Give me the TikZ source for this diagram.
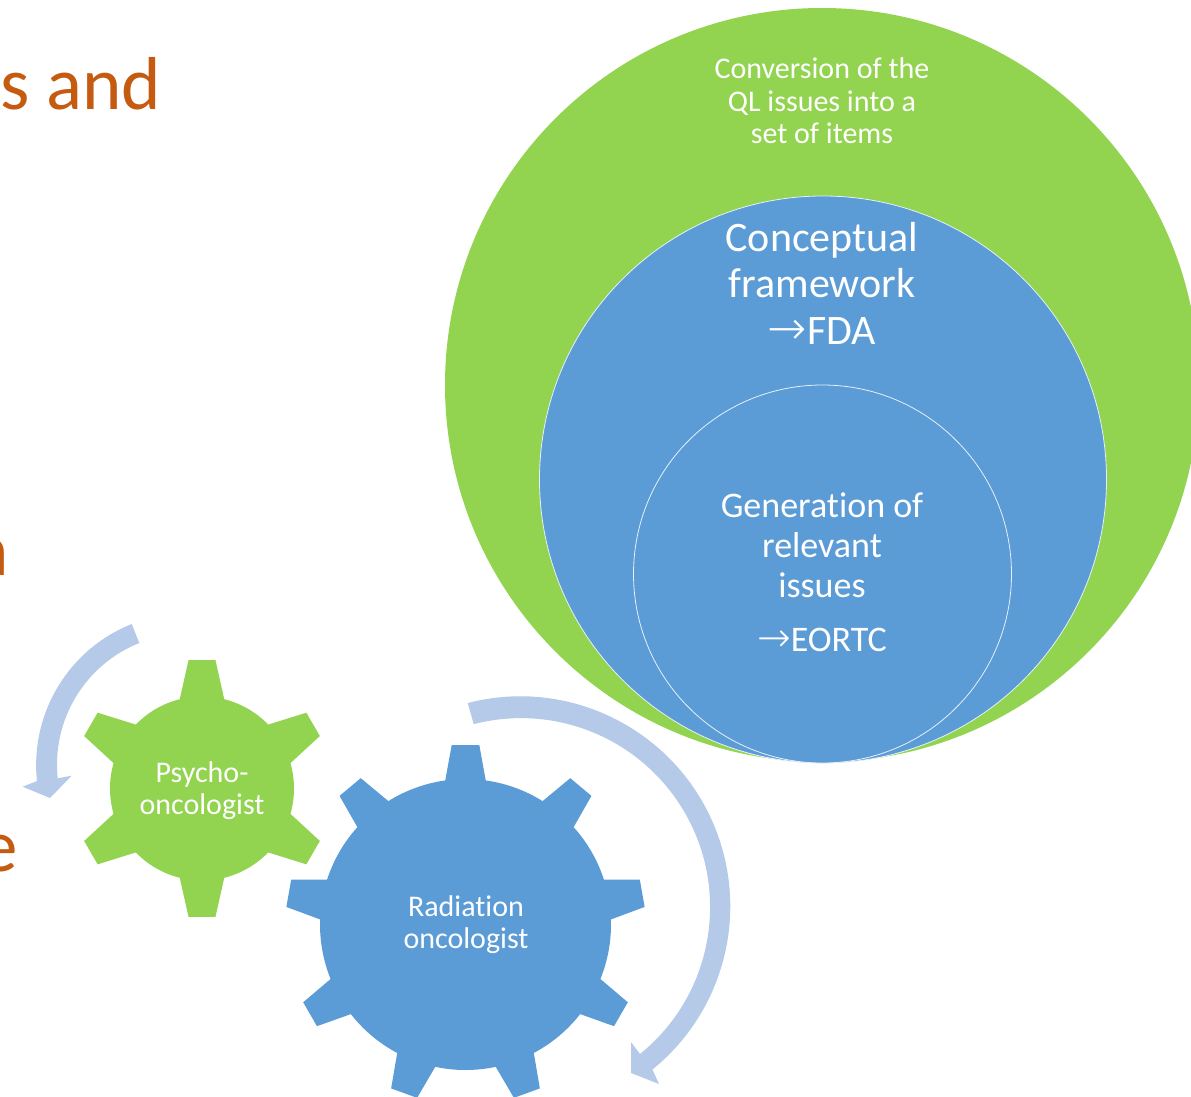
\documentclass[tikz,border=0pt]{standalone}
\usepackage{fontspec}
\setmainfont{Carlito}[Ligatures=NoCommon]
\newfontfamily\arrowfont{DejaVu Sans ExtraLight}[Scale=1.12]
\usetikzlibrary{positioning}
\definecolor{leafgreen}{HTML}{92D350}
\definecolor{skyblue}{HTML}{5B9BD6}
\definecolor{paleblue}{HTML}{B5C9E8}
\definecolor{rust}{HTML}{C55A11}
\tikzstyle{disc}=[circle,inner sep=0pt,outer sep=0pt]
\tikzstyle{smalltext}=[align=center,text=white,inner sep=0pt,font=\fontsize{30}{32.5}\selectfont]
\tikzstyle{midtext}=[align=center,text=white,inner sep=0pt,font=\fontsize{36}{40}\selectfont]
\tikzstyle{bigtext}=[align=center,text=white,inner sep=0pt,font=\fontsize{42}{46.5}\selectfont]
\tikzstyle{heading}=[text=rust,inner sep=0pt,anchor=base west,font=\fontsize{75}{86}\selectfont]
\newcommand{\gearteeth}[6]{
  (#4-#5:#1)
  \foreach \a in {#3} {
    -- (\a-#6:#2) -- (\a+#6:#2) -- (\a+#5:#1)
    arc[start angle=\a+#5,end angle=\a+360/\gearcount-#5,radius=#1]
  } -- cycle
}

\begin{document}
\begin{tikzpicture}[x=1pt,y=-1pt]
  \clip (0,0) rectangle (1191,1097);

  \node(outer)[disc,fill=leafgreen,minimum size=754pt] at (822,385) {};
  \node(middle)[disc,fill=skyblue,draw=white!85!skyblue,line width=.8pt,minimum size=567pt] at (823,479.5) {};
  \node(inner)[disc,fill=skyblue,draw=white!85!skyblue,line width=.8pt,minimum size=378pt] at (822.5,574) {};

  \node(conversion)[smalltext] at (822,101) {Conversion of the\\QL issues into a\\set of items};
  \node(framework)[bigtext] at (822,283) {Conceptual\\framework\\{\arrowfont\char"2192}FDA};
  \node(generation)[midtext] at (822,545) {Generation of\\relevant\\issues};
  \node(eortc)[midtext] at (822,640) {{\arrowfont\char"2192}EORTC};

  \node(title)[heading] at (0,110) {s and};
  \node(titlen)[heading] at (-31,575) {n};
  \node(titlee)[heading] at (-20,871) {e};

  % gears
  \def\gearcount{6}
  \fill[leafgreen,shift={(202,788.5)}] \gearteeth{92}{129}{-90,-30,30,90,150,210}{-90}{14}{6};
  \def\gearcount{9}
  \fill[skyblue,shift={(465.5,924.5)}] \gearteeth{145.5}{180}{-90,-50,-10,30,70,110,150,190,230}{-90}{8}{4.4};

  \node(psycho)[smalltext] at (202,790.5) {Psycho-\\oncologist};
  \node(radiation)[smalltext] at (466,924.5) {Radiation\\oncologist};

  % turning arrows
  \fill[paleblue] (131.7,624) arc[start angle=-111.8,end angle=-186,radius=152]
    -- (22.7,786.7) -- (50,798) -- (71.7,775.7) -- (57.7,778.3)
    arc[start angle=-186,end angle=-111.8,radius=131] -- cycle;
  \fill[paleblue] (467.7,703) arc[start angle=-104.5,end angle=51,radius=210]
    -- (659,1084) -- (631,1073) -- (631,1042) -- (640,1054)
    arc[start angle=51,end angle=-104.5,radius=189] -- cycle;
\end{tikzpicture}
\end{document}
